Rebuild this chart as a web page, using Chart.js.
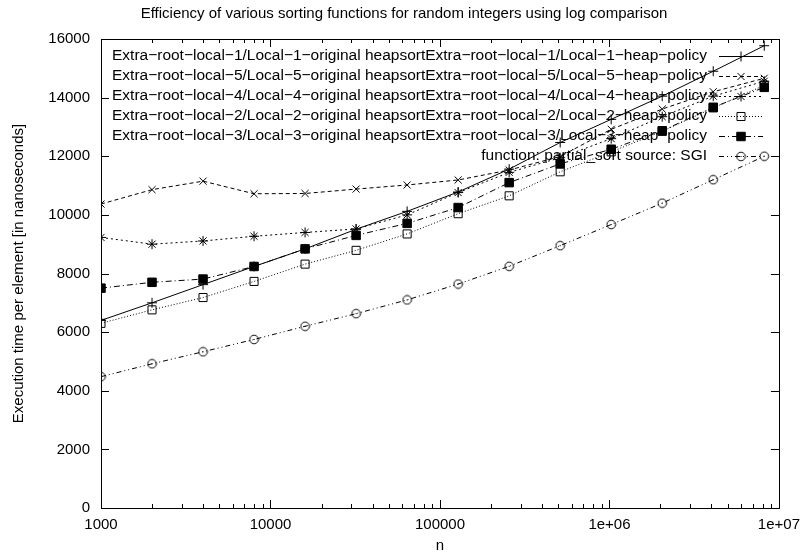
<!DOCTYPE html>
<html>
<head>
    <style>
        html, body { margin: 0; padding: 0; background: #fff; }
        #wrap { width: 808px; height: 558px; }
    </style>
    <script src="https://cdn.jsdelivr.net/npm/chart.js"></script>
    <title>Sorting efficiency</title>
</head>
<body>
    <div id="wrap"><canvas id="sort_chart" width="808" height="558"></canvas></div>
    <script>
        const titleText = 'Efficiency of various sorting functions for random integers using log comparison';
        const xTitle = 'n';
        const yTitle = 'Execution time per element [in nanoseconds]';

        // problem sizes (n)
        const nValues = [1000, 2000, 4000, 8000, 16000, 32000, 64000, 128000, 256000, 512000, 1024000, 2048000, 4096000, 8192000];

        const local1 = [6400, 7000, 7620, 8240, 8840, 9510, 10120, 10780, 11560, 12470, 13260, 14050, 14900, 15770];
        const local5 = [10370, 10860, 11150, 10720, 10730, 10880, 11020, 11190, 11530, 11990, 12920, 13610, 14200, 14660];
        const local4 = [9230, 9000, 9110, 9270, 9400, 9520, 10000, 10760, 11450, 11950, 12600, 13350, 14050, 14560];
        const local2 = [6300, 6760, 7180, 7730, 8320, 8790, 9350, 10040, 10650, 11470, 12150, 12850, 13650, 14420];
        const local3 = [7500, 7700, 7810, 8240, 8840, 9300, 9710, 10250, 11100, 11740, 12240, 12870, 13670, 14350];
        const sgi = [4480, 4920, 5330, 5750, 6200, 6630, 7100, 7640, 8245, 8950, 9670, 10400, 11200, 12000];

        const seriesLabels = [
            'Extra\u2212root\u2212local\u22121/Local\u22121\u2212original heapsortExtra\u2212root\u2212local\u22121/Local\u22121\u2212heap\u2212policy',
            'Extra\u2212root\u2212local\u22125/Local\u22125\u2212original heapsortExtra\u2212root\u2212local\u22125/Local\u22125\u2212heap\u2212policy',
            'Extra\u2212root\u2212local\u22124/Local\u22124\u2212original heapsortExtra\u2212root\u2212local\u22124/Local\u22124\u2212heap\u2212policy',
            'Extra\u2212root\u2212local\u22122/Local\u22122\u2212original heapsortExtra\u2212root\u2212local\u22122/Local\u22122\u2212heap\u2212policy',
            'Extra\u2212root\u2212local\u22123/Local\u22123\u2212original heapsortExtra\u2212root\u2212local\u22123/Local\u22123\u2212heap\u2212policy',
            'function: partial_sort source: SGI'
        ];

        const xTickLabels = { 1000: '1000', 10000: '10000', 100000: '100000', 1000000: '1e+06', 10000000: '1e+07' };

        const FONT = '"Liberation Sans", Arial, sans-serif';

        // open circle with a centre dot, like gnuplot's point type 6
        function circleDot() {
            const c = document.createElement('canvas');
            c.width = 11; c.height = 11;
            const g = c.getContext('2d');
            g.strokeStyle = '#000';
            g.lineWidth = 1;
            g.beginPath(); g.arc(5.5, 5.5, 4.3, 0, Math.PI * 2); g.stroke();
            g.fillStyle = '#000';
            g.fillRect(5, 5, 1, 1);
            return c;
        }

        const toPoints = vals => vals.map((v, i) => ({ x: nValues[i], y: v }));

        const styles = [
            { data: local1, dash: [], pointStyle: 'cross', radius: 5, fill: 'rgba(0,0,0,0)' },
            { data: local5, dash: [4, 3], pointStyle: 'crossRot', radius: 5, fill: 'rgba(0,0,0,0)' },
            { data: local4, dash: [2, 3], pointStyle: 'star', radius: 5, fill: 'rgba(0,0,0,0)' },
            { data: local2, dash: [1, 2], pointStyle: 'rect', radius: 5.7, fill: 'rgba(0,0,0,0)' },
            { data: local3, dash: [6, 3, 1, 3], pointStyle: 'rect', radius: 6, fill: '#000' },
            { data: sgi, dash: [5, 3, 1, 3, 1, 3], pointStyle: circleDot(), radius: 5, fill: 'rgba(0,0,0,0)' }
        ];

        const datasets = styles.map((s, i) => ({
            label: seriesLabels[i],
            data: toPoints(s.data),
            borderColor: '#000',
            borderWidth: 1,
            borderDash: s.dash,
            pointStyle: s.pointStyle,
            pointRadius: s.radius,
            pointHoverRadius: s.radius,
            pointBorderColor: '#000',
            pointBorderWidth: 1,
            pointBackgroundColor: s.fill,
            tension: 0,
            fill: false
        }));

        // gnuplot style key, frame, inward ticks and titles
        const gnuplotLook = {
            id: 'gnuplotLook',
            beforeDatasetsDraw(chart) {
                const ctx = chart.ctx;
                ctx.save();
                ctx.font = '15.5px ' + FONT;
                ctx.textAlign = 'right';
                ctx.textBaseline = 'middle';
                chart.data.datasets.forEach((ds, i) => {
                    const y = 56 + i * 19.9;
                    ctx.fillStyle = '#000';
                    ctx.fillText(ds.label, 707, y);
                    ctx.strokeStyle = '#000';
                    ctx.lineWidth = 1;
                    ctx.setLineDash(ds.borderDash);
                    ctx.beginPath();
                    ctx.moveTo(719, Math.round(y) + 0.5);
                    ctx.lineTo(763, Math.round(y) + 0.5);
                    ctx.stroke();
                    ctx.setLineDash([]);
                    ctx.fillStyle = ds.pointBackgroundColor;
                    Chart.helpers.drawPoint(ctx, {
                        pointStyle: ds.pointStyle,
                        radius: ds.pointRadius,
                        rotation: 0,
                        borderWidth: 1
                    }, 741, Math.round(y) + 0.5);
                });
                ctx.restore();
            },
            afterDraw(chart) {
                const ctx = chart.ctx;
                const a = chart.chartArea;
                const xs = chart.scales.x;
                const ys = chart.scales.y;
                ctx.save();
                ctx.strokeStyle = '#000';
                ctx.lineWidth = 1;
                ctx.strokeRect(Math.round(a.left) + 0.5, Math.round(a.top) + 0.5,
                    Math.round(a.right - a.left), Math.round(a.bottom - a.top));
                ctx.beginPath();
                xs.ticks.forEach(t => {
                    const px = Math.round(xs.getPixelForValue(t.value)) + 0.5;
                    const major = xTickLabels[t.value] !== undefined;
                    const len = major ? 8 : 4;
                    ctx.moveTo(px, a.bottom); ctx.lineTo(px, a.bottom - len);
                    ctx.moveTo(px, a.top); ctx.lineTo(px, a.top + len);
                });
                ys.ticks.forEach(t => {
                    const py = Math.round(ys.getPixelForValue(t.value)) + 0.5;
                    ctx.moveTo(a.left, py); ctx.lineTo(a.left + 8, py);
                    ctx.moveTo(a.right, py); ctx.lineTo(a.right - 8, py);
                });
                ctx.stroke();

                ctx.fillStyle = '#000';
                ctx.textAlign = 'center';
                ctx.textBaseline = 'middle';
                ctx.font = '15px ' + FONT;
                ctx.fillText(titleText, chart.width / 2, 14);
                ctx.fillText(xTitle, (a.left + a.right) / 2, 546);
                ctx.translate(19, (a.top + a.bottom) / 2);
                ctx.rotate(-Math.PI / 2);
                ctx.fillText(yTitle, 0, 0);
                ctx.restore();
            }
        };

        const xTickValues = [];
        for (let e = 1000; e <= 1e7; e *= 10) {
            for (let m = 1; m <= 9; m++) {
                if (e * m <= 1e7) xTickValues.push(e * m);
            }
        }

        new Chart(document.getElementById('sort_chart'), {
            type: 'line',
            data: { datasets },
            options: {
                responsive: false,
                animation: false,
                events: [],
                layout: { padding: { top: 39, right: 26, left: 0, bottom: 0 } },
                plugins: {
                    legend: { display: false },
                    tooltip: { enabled: false },
                    title: { display: false }
                },
                scales: {
                    x: {
                        type: 'logarithmic',
                        min: 1000,
                        max: 10000000,
                        afterBuildTicks: scale => {
                            scale.ticks = xTickValues.map(v => ({ value: v }));
                        },
                        afterFit: scale => { scale.height = 50; },
                        grid: { display: false, drawTicks: false },
                        border: { display: false },
                        ticks: {
                            autoSkip: false,
                            maxRotation: 0,
                            padding: 8,
                            color: '#000',
                            font: { family: FONT, size: 15 },
                            callback: value => xTickLabels[value] || ''
                        }
                    },
                    y: {
                        min: 0,
                        max: 16000,
                        afterFit: scale => { scale.width = 101; },
                        grid: { display: false, drawTicks: false },
                        border: { display: false },
                        ticks: {
                            stepSize: 2000,
                            padding: 11,
                            color: '#000',
                            font: { family: FONT, size: 15 },
                            callback: value => String(value)
                        }
                    }
                }
            },
            plugins: [gnuplotLook]
        });
    </script>
</body>
</html>
